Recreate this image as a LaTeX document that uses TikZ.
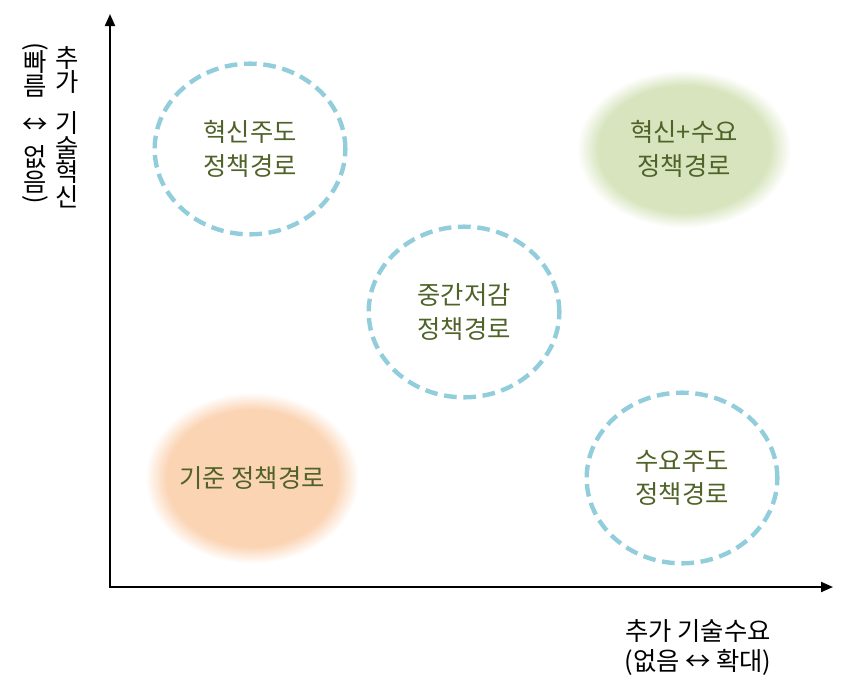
\documentclass[tikz,border=0pt]{standalone}
\usepackage{fontspec}
\usepackage{graphicx}
\newfontfamily\kr{Noto Sans CJK KR}
\usetikzlibrary{arrows.meta,shapes.geometric,fadings}
\definecolor{pathtext}{HTML}{4F6228}
\definecolor{pathline}{HTML}{92CDDC}
\definecolor{glowgreen}{HTML}{D7E4BD}
\definecolor{gloworange}{HTML}{FBD4B4}
\begin{document}
\begin{tikzpicture}[x=0.75pt, y=-0.75pt,
    every node/.style={font=\kr\fontsize{19}{25}\selectfont, align=center,
      inner sep=0pt},
    axis/.style={line width=1.5pt,
      {Triangle[length=9pt,width=7.5pt]}-{Triangle[length=9pt,width=7.5pt]}},
    pathbox/.style={ellipse, draw=pathline, line width=3.3pt,
      dash pattern=on 9.5pt off 5pt, text=pathtext,
      minimum width=143pt, minimum height=128pt},
    glow/.style={ellipse, text=pathtext, minimum width=160pt,
      preaction={fill=#1, path fading=circle with fuzzy edge 20 percent}},
    stack/.style={font=\kr\fontsize{19}{18.5}\selectfont},
  ]
  \useasboundingbox (0,0) rectangle (846,690);
  % axes
  \coordinate (origin) at (110,587);
  \coordinate (ytip) at (110,14);
  \coordinate (xtip) at (833,587);
  \draw[axis] (ytip) -- (origin) -- (xtip);
  % axis labels
  \node[stack] (ylabel) at (67,127) {추\\가\\[12pt]기\\술\\혁\\신};
  \node[stack] (yrange) at (35,125)
    {\rotatebox[origin=c]{-90}{(}\\[-6pt]빠\\름\\[10pt]↔\\[6pt]없\\음\\[-6pt]\rotatebox[origin=c]{-90}{)}};
  \node[font=\kr\fontsize{19}{22.5}\selectfont] (xlabel) at (698,647)
    {추가 기술수요\\(없음 ↔ 확대)};
  % policy paths
  \node[glow=gloworange, minimum height=128pt] (base) at (252,478) {기준 정책경로};
  \node[glow=glowgreen, minimum height=118pt] (both) at (684,149) {혁신+수요\\정책경로};
  \node[pathbox] (innov) at (250,149) {혁신주도\\정책경로};
  \node[pathbox] (mid) at (464,312) {중간저감\\정책경로};
  \node[pathbox] (demand) at (682,478) {수요주도\\정책경로};
\end{tikzpicture}
\end{document}
